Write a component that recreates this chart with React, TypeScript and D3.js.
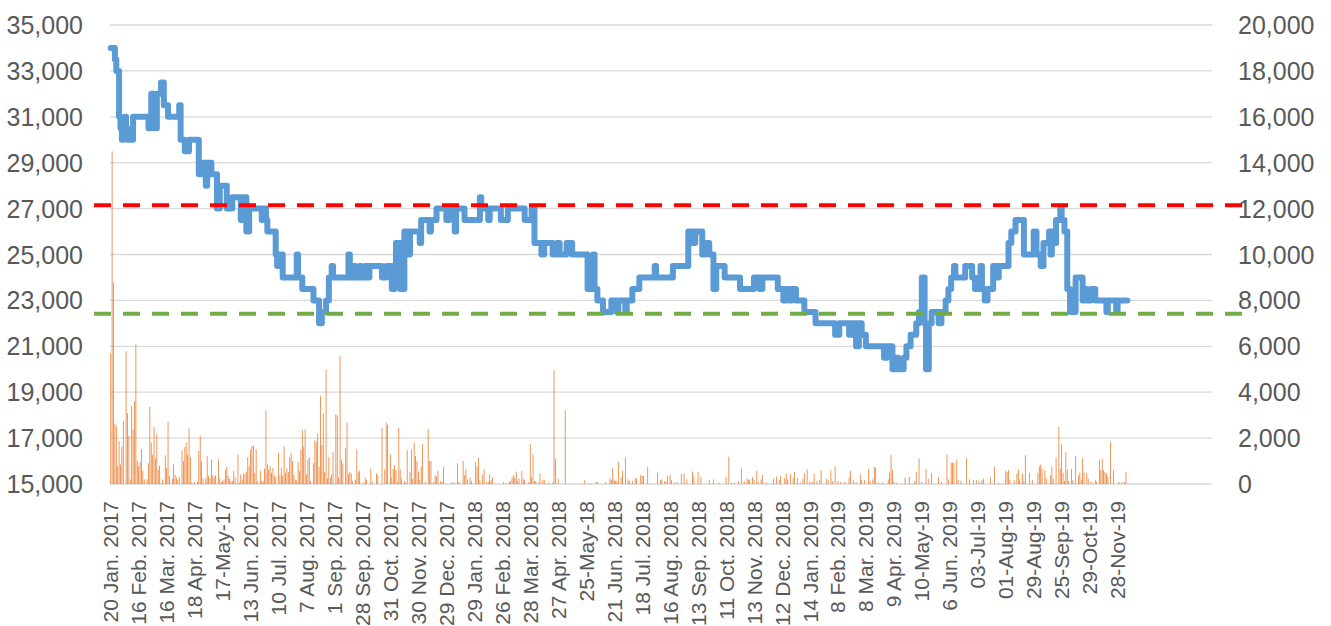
import * as d3 from 'd3'
import { useEffect, useRef } from 'react'

// category axis: one slot per trading day, a label every 20 days
const dayCount = 788
const labelEvery = 20
const dayLabels = [
  '20 Jan. 2017', '16 Feb. 2017', '16 Mar. 2017', '18 Apr. 2017', '17-May-17', '13 Jun. 2017',
  '10 Jul. 2017', '7 Aug. 2017', '1 Sep. 2017', '28 Sep. 2017', '31 Oct. 2017', '30 Nov. 2017',
  '29 Dec. 2017', '29 Jan. 2018', '26 Feb. 2018', '28 Mar. 2018', '27 Apr. 2018', '25-May-18',
  '21 Jun. 2018', '18 Jul. 2018', '16 Aug. 2018', '13 Sep. 2018', '11 Oct. 2018', '13 Nov. 2018',
  '12 Dec. 2018', '14 Jan. 2019', '8 Feb. 2019', '8 Mar. 2019', '9 Apr. 2019', '10-May-19',
  '6 Jun. 2019', '03-Jul-19', '01-Aug-19', '29-Aug-19', '25-Sep-19', '29-Oct-19', '28-Nov-19',
]
const priceTicks = [15000, 17000, 19000, 21000, 23000, 25000, 27000, 29000, 31000, 33000, 35000]
const volumeTicks = [0, 2000, 4000, 6000, 8000, 10000, 12000, 14000, 16000, 18000, 20000]

const upperLevel = 27150
const lowerLevel = 22420

// price: [day, new price] at each change
const priceSteps: [number, number][] = [
  [0, 34000], [3, 33500], [4, 33000], [6, 31000], [7, 30500], [8, 30000], [9, 30500], [10, 31000],
  [11, 30500], [12, 30000], [16, 31000], [27, 30500], [28, 31000], [29, 32000], [31, 30500], [33, 32000],
  [36, 32500], [38, 31500], [41, 31000], [49, 31500], [50, 30000], [53, 29500], [56, 30000], [63, 28500],
  [65, 29000], [68, 28000], [69, 29000], [72, 28500], [76, 27000], [78, 28000], [83, 27000], [87, 27500],
  [93, 26500], [94, 27500], [97, 26000], [99, 27000], [108, 26500], [109, 27000], [111, 26500], [112, 26000],
  [118, 25000], [119, 24500], [120, 25000], [123, 24000], [133, 25000], [134, 24000], [137, 23500], [145, 23000],
  [149, 22000], [151, 22500], [154, 23000], [156, 24000], [158, 24500], [159, 24000], [170, 25000], [171, 24000],
  [174, 24500], [175, 24000], [178, 24500], [179, 24000], [182, 24500], [183, 24000], [185, 24500], [194, 24000],
  [197, 24500], [201, 23500], [203, 24500], [204, 25500], [207, 23500], [210, 26000], [212, 25000], [214, 26000],
  [221, 25500], [222, 26500], [228, 26000], [229, 26500], [233, 27000], [240, 26500], [242, 27000], [246, 26000],
  [247, 27000], [253, 26500], [264, 27500], [265, 27000], [270, 26500], [271, 27000], [279, 26500], [284, 27000],
  [296, 26500], [301, 27000], [303, 25500], [308, 25000], [310, 25500], [316, 25000], [319, 25500], [321, 25000],
  [326, 25500], [330, 25000], [341, 23500], [345, 25000], [346, 23500], [348, 23000], [352, 22500], [358, 23000],
  [362, 22500], [363, 23000], [368, 22500], [369, 23000], [373, 23500], [378, 24000], [389, 24500], [390, 24000],
  [402, 24500], [413, 26000], [416, 25500], [418, 26000], [423, 25000], [425, 25500], [428, 25000], [431, 23500],
  [433, 24500], [439, 24000], [450, 23500], [460, 24000], [464, 23500], [466, 24000], [477, 23500], [481, 23000],
  [483, 23500], [485, 23000], [487, 23500], [490, 23000], [496, 22500], [504, 22000], [518, 21500], [521, 22000],
  [528, 21500], [530, 22000], [533, 21000], [535, 22000], [537, 21500], [540, 21000], [553, 20500], [555, 21000],
  [559, 20000], [561, 20500], [563, 20000], [567, 20500], [569, 21000], [572, 21500], [576, 22000], [578, 22500],
  [580, 24000], [582, 22000], [583, 20000], [585, 22000], [587, 22500], [592, 22000], [594, 22500], [597, 23000],
  [599, 23500], [601, 24000], [603, 24500], [604, 24000], [611, 24500], [616, 24000], [618, 23500], [622, 24500],
  [623, 23500], [625, 23000], [627, 23500], [631, 24500], [634, 24000], [635, 24500], [642, 25500], [644, 26000],
  [647, 26500], [653, 25000], [660, 26000], [662, 25000], [665, 24500], [667, 25500], [671, 26000], [672, 25000],
  [673, 26000], [674, 25500], [676, 26500], [679, 27000], [680, 26500], [682, 26000], [684, 23500], [686, 22500],
  [690, 24000], [695, 23000], [696, 23500], [698, 23000], [701, 23500], [704, 23000], [712, 22500], [713, 23000],
  [719, 22500], [720, 23000], [727, 23000],
]

// volume: [day, volume], days not listed are ~0
const volume: [number, number][] = [
  [0, 5700], [1, 14500], [2, 8800], [3, 2640], [4, 2520], [5, 780], [6, 1870], [7, 850], [8, 1620], [9, 2740],
  [11, 5790], [12, 3100], [13, 2090], [14, 200], [15, 3390], [16, 2380], [17, 3610], [18, 6080], [19, 1000], [20, 780],
  [21, 960], [22, 1510], [23, 570], [24, 200], [26, 200], [27, 900], [28, 3360], [29, 1800], [30, 1260], [31, 2480],
  [32, 1120], [33, 2160], [34, 640], [35, 810], [37, 200], [39, 1250], [40, 710], [41, 2700], [42, 350], [44, 230],
  [45, 850], [46, 390], [47, 280], [48, 170], [49, 300], [51, 1460], [52, 1000], [53, 1610], [54, 1800], [55, 1290],
  [56, 2410], [57, 1170], [58, 60], [60, 90], [62, 90], [63, 1440], [64, 2090], [65, 1000], [66, 250], [68, 250],
  [69, 1220], [70, 350], [71, 250], [72, 1070], [73, 390], [74, 320], [75, 380], [77, 1070], [78, 230], [79, 90],
  [80, 130], [81, 200], [82, 610], [83, 750], [84, 350], [85, 230], [86, 130], [87, 130], [88, 570], [89, 280],
  [91, 1290], [92, 60], [93, 420], [94, 200], [95, 460], [96, 420], [97, 540], [98, 1170], [99, 780], [100, 1480],
  [101, 1650], [102, 1680], [103, 490], [104, 1510], [105, 120], [107, 570], [108, 120], [109, 130], [110, 670], [111, 3220],
  [112, 850], [113, 640], [114, 780], [115, 490], [116, 710], [117, 380], [118, 280], [120, 1360], [121, 380], [122, 710],
  [123, 380], [124, 1650], [125, 490], [126, 680], [127, 520], [128, 1170], [129, 1360], [130, 1000], [131, 420], [132, 200],
  [133, 160], [134, 960], [135, 570], [136, 1510], [137, 2350], [138, 1620], [139, 2380], [140, 420], [141, 1070], [142, 1170],
  [143, 130], [145, 900], [146, 1900], [147, 1840], [148, 2200], [149, 750], [150, 3830], [151, 1700], [152, 3070], [153, 520],
  [154, 4990], [155, 250], [156, 1170], [157, 280], [158, 420], [159, 1390], [161, 3030], [162, 2990], [163, 280], [164, 5570],
  [165, 1070], [166, 900], [168, 1550], [169, 2670], [170, 420], [171, 540], [172, 460], [173, 130], [175, 200], [176, 1510],
  [177, 520], [178, 570], [181, 60], [182, 280], [183, 170], [186, 680], [187, 90], [190, 460], [191, 380], [194, 2450],
  [196, 640], [197, 2670], [198, 2580], [200, 1290], [201, 280], [202, 670], [203, 810], [204, 610], [205, 90], [206, 2450],
  [207, 640], [208, 230], [210, 130], [211, 60], [212, 1480], [214, 520], [215, 1510], [216, 230], [217, 1800], [218, 1220],
  [219, 1000], [220, 540], [221, 170], [222, 750], [223, 1730], [225, 90], [227, 2410], [228, 1000], [229, 1000], [231, 90],
  [232, 380], [233, 320], [234, 580], [236, 130], [237, 90], [238, 750], [244, 90], [246, 60], [248, 900], [249, 90],
  [252, 1000], [253, 380], [254, 670], [255, 200], [257, 280], [258, 120], [261, 960], [262, 750], [263, 1150], [264, 170],
  [266, 420], [267, 640], [269, 90], [270, 100], [271, 420], [272, 170], [273, 290], [281, 90], [283, 30], [285, 90],
  [286, 130], [287, 280], [288, 390], [289, 280], [290, 540], [291, 130], [292, 230], [294, 570], [295, 230], [296, 170],
  [299, 90], [300, 1730], [301, 320], [302, 1290], [303, 130], [304, 130], [306, 60], [307, 460], [309, 170], [310, 170],
  [313, 60], [316, 60], [317, 4960], [318, 1100], [320, 230], [325, 3200], [331, 30], [339, 170], [343, 30], [347, 90],
  [348, 90], [354, 90], [357, 230], [358, 170], [359, 710], [360, 170], [361, 130], [362, 130], [363, 960], [365, 280],
  [366, 570], [368, 1160], [370, 200], [371, 130], [373, 130], [375, 250], [376, 250], [379, 390], [380, 350], [381, 350],
  [384, 740], [391, 490], [393, 170], [394, 200], [396, 130], [397, 90], [398, 350], [400, 390], [401, 170], [403, 60],
  [405, 100], [408, 450], [410, 460], [412, 200], [416, 540], [417, 320], [420, 520], [422, 320], [428, 170], [431, 200],
  [435, 60], [440, 320], [442, 1190], [444, 60], [446, 60], [449, 130], [451, 680], [453, 130], [455, 250], [456, 170],
  [457, 200], [459, 300], [460, 170], [462, 570], [463, 90], [465, 200], [466, 390], [469, 60], [474, 250], [476, 320],
  [478, 170], [479, 350], [482, 250], [483, 460], [484, 200], [486, 420], [488, 280], [489, 520], [491, 250], [493, 60],
  [495, 230], [496, 460], [498, 640], [500, 130], [502, 90], [503, 450], [505, 130], [507, 170], [508, 600], [512, 230],
  [513, 170], [515, 610], [516, 130], [518, 780], [520, 130], [522, 90], [525, 90], [528, 280], [529, 570], [531, 170],
  [533, 90], [536, 420], [537, 170], [539, 170], [542, 640], [543, 130], [545, 200], [546, 740], [547, 710], [549, 60],
  [552, 60], [556, 200], [557, 490], [558, 1260], [559, 610], [560, 90], [562, 60], [568, 280], [571, 320], [575, 130],
  [576, 540], [578, 1120], [580, 90], [583, 670], [585, 230], [587, 490], [592, 320], [594, 90], [598, 1290], [599, 200],
  [601, 930], [602, 930], [603, 930], [605, 1040], [606, 170], [608, 130], [612, 1120], [614, 200], [617, 170], [619, 170],
  [621, 130], [623, 170], [624, 230], [629, 280], [632, 730], [635, 60], [640, 570], [641, 520], [642, 610], [643, 200],
  [646, 170], [648, 460], [649, 640], [650, 200], [652, 460], [653, 130], [654, 1250], [657, 490], [659, 170], [663, 490],
  [664, 780], [665, 850], [666, 640], [668, 600], [669, 230], [672, 380], [673, 750], [674, 230], [676, 1150], [678, 2490],
  [679, 670], [680, 1730], [681, 490], [682, 130], [683, 1390], [684, 640], [685, 130], [687, 670], [688, 170], [690, 1220],
  [692, 350], [693, 490], [694, 170], [695, 1120], [696, 490], [698, 490], [699, 230], [701, 130], [704, 170], [705, 100],
  [707, 1070], [708, 600], [709, 1100], [710, 610], [711, 520], [712, 460], [713, 320], [715, 1830], [717, 600], [721, 90],
  [723, 60], [725, 90], [726, 520],
]

const App = () => {
  const ref = useRef<SVGSVGElement>(null)
  useEffect(() => {
    const svg = d3.select(ref.current)
    svg.selectAll('*').remove()
    const plot = { left: 110, right: 1212, top: 25, bottom: 484 }
    const font = '"Liberation Sans", Arial, sans-serif'
    const textColor = '#595959'

    const x = d3.scaleLinear().domain([0, dayCount]).range([plot.left, plot.right])
    const yPrice = d3.scaleLinear().domain([15000, 35000]).range([plot.bottom, plot.top])
    const yVol = d3.scaleLinear().domain([0, 20000]).range([plot.bottom, plot.top])
    const fmt = d3.format(',')

    // gridlines
    svg.append('g').selectAll('line').data(priceTicks).enter().append('line')
      .attr('x1', plot.left).attr('x2', plot.right)
      .attr('y1', d => yPrice(d)).attr('y2', d => yPrice(d))
      .attr('stroke', '#d9d9d9').attr('stroke-width', 1.3)

    // left / right tick labels
    svg.append('g').selectAll('text').data(priceTicks).enter().append('text')
      .attr('x', 83).attr('y', d => yPrice(d)).attr('dy', '0.36em')
      .attr('text-anchor', 'end').attr('font-family', font).attr('font-size', 25).attr('fill', textColor)
      .text(d => fmt(d))
    svg.append('g').selectAll('text').data(volumeTicks).enter().append('text')
      .attr('x', 1238).attr('y', d => yVol(d)).attr('dy', '0.36em')
      .attr('text-anchor', 'start').attr('font-family', font).attr('font-size', 25).attr('fill', textColor)
      .text(d => fmt(d))

    // date labels
    svg.append('g').selectAll('text').data(dayLabels).enter().append('text')
      .attr('transform', (d, i) => `translate(${x(i * labelEvery + 0.5)},501) rotate(-90)`)
      .attr('dy', '0.36em').attr('text-anchor', 'end')
      .attr('font-family', font).attr('font-size', 21).attr('fill', textColor)
      .text(d => d)

    // volume bars
    const bw = 0.8
    svg.append('g').selectAll('rect').data(volume).enter().append('rect')
      .attr('x', d => x(d[0] + 0.5) - bw / 2).attr('width', bw)
      .attr('y', d => yVol(d[1])).attr('height', d => yVol(0) - yVol(d[1]))
      .attr('fill', '#ed7d31')

    // price line
    const line = d3.line<[number, number]>()
      .x(d => x(d[0] + 0.5)).y(d => yPrice(d[1]))
      .curve(d3.curveStepAfter)
    svg.append('path').datum(priceSteps).attr('d', line)
      .attr('fill', 'none').attr('stroke', '#5b9bd5').attr('stroke-width', 6)
      .attr('stroke-linejoin', 'round').attr('stroke-linecap', 'round')

    // reference levels
    const levels = [
      { v: upperLevel, c: '#ff0000' },
      { v: lowerLevel, c: '#70ad47' },
    ]
    svg.append('g').selectAll('line').data(levels).enter().append('line')
      .attr('x1', plot.left - 16).attr('x2', plot.right + 35)
      .attr('y1', d => yPrice(d.v)).attr('y2', d => yPrice(d.v))
      .attr('stroke', d => d.c).attr('stroke-width', 4).attr('stroke-dasharray', '17 12')
  }, [])
  return (
    <svg ref={ref} width={1331} height={626}
      style={{ position: 'absolute', left: 0, top: 0, background: '#fff' }} />
  )
}
export default App
